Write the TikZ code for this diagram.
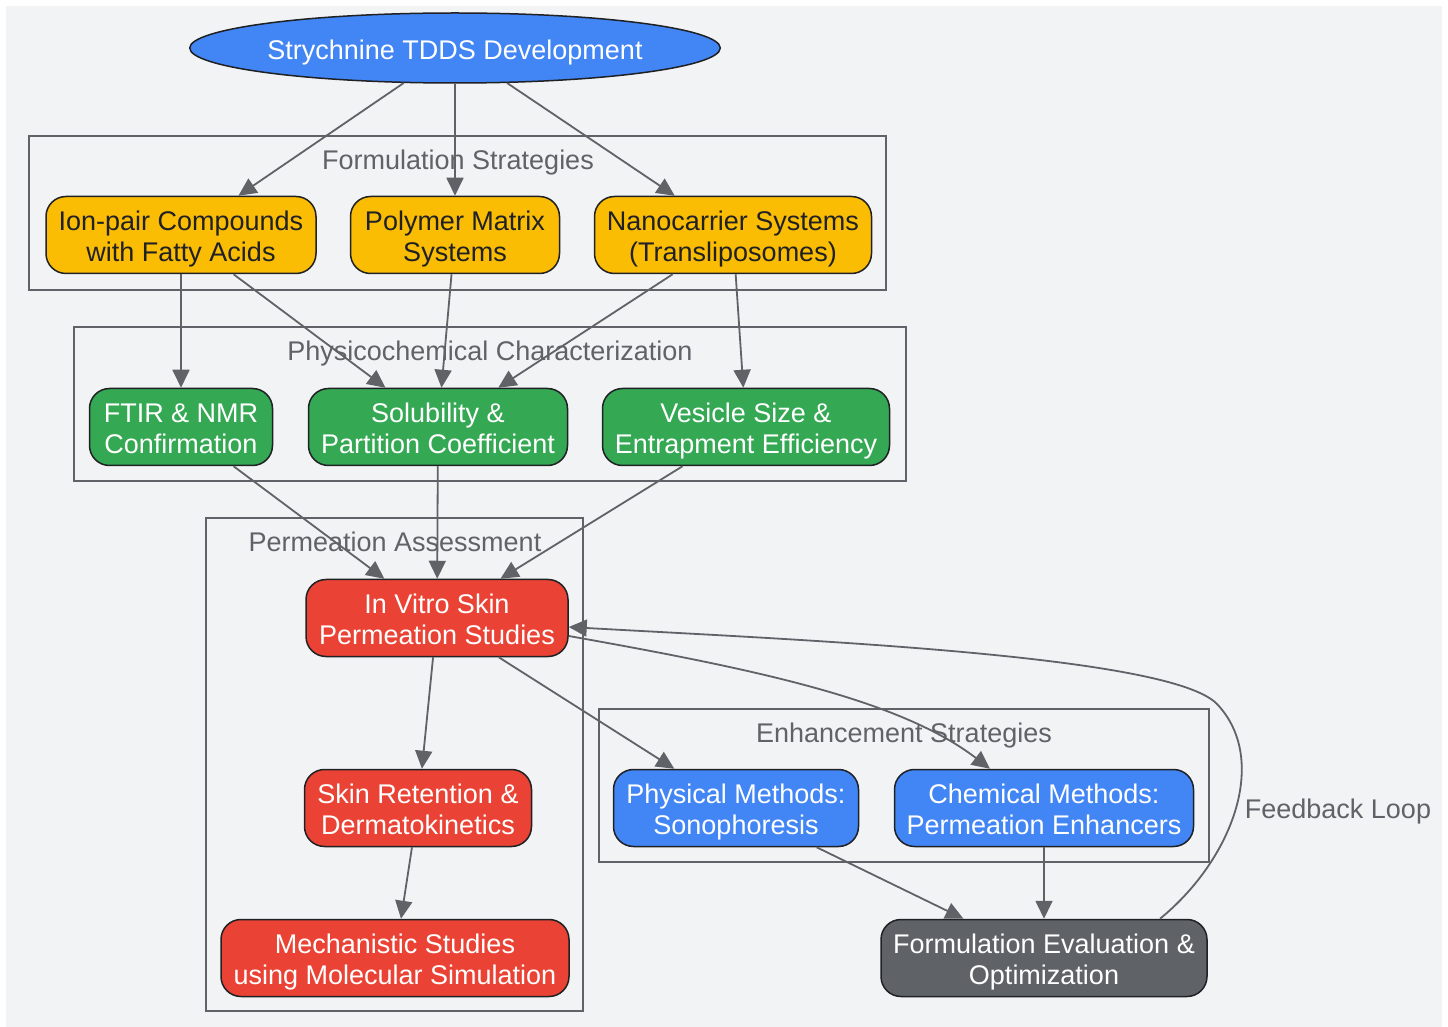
\documentclass[tikz,border=0pt]{standalone}
\usepackage{fontspec}
\setmainfont{Liberation Sans}
\usepackage{tikz}
\usetikzlibrary{arrows.meta,shapes.geometric}
\definecolor{bgray}{HTML}{F1F3F4}
\definecolor{lgray}{HTML}{5F6368}
\definecolor{dline}{HTML}{202124}
\definecolor{gblue}{HTML}{4285F4}
\definecolor{gyellow}{HTML}{FBBC04}
\definecolor{ggreen}{HTML}{34A853}
\definecolor{gred}{HTML}{EA4335}
\newcommand{\nodefont}{\fontsize{13.5}{15.5}\selectfont}
% two centred lines with a fixed height
\newcommand{\duo}[2]{\begin{tabular}{@{}c@{}}\rule{0pt}{15.65pt}#1\\#2\end{tabular}}

\begin{document}
\begin{tikzpicture}[x=0.5pt,y=-0.5pt,
  box/.style={draw=dline, line width=0.75pt, rounded corners=10pt,
    minimum height=38.5pt, inner sep=1pt, font=\nodefont},
  cluster/.style={draw=lgray, line width=1pt},
  clabel/.style={text=lgray, font=\nodefont, anchor=base},
  edge/.style={draw=lgray, line width=0.9pt, -{Triangle[length=9pt,width=8.5pt]}}]
  % page
  \useasboundingbox (0,0) rectangle (1448,1027);
  \fill[bgray] (6,6) rectangle (1442,1027);

  % clusters
  \draw[cluster] (29,136) rectangle (886,290);
  \node[clabel] (formlabel) at (458,170) {Formulation Strategies};
  \draw[cluster] (74,327) rectangle (906,481);
  \node[clabel] (charlabel) at (490,361) {Physicochemical Characterization};
  \draw[cluster] (206,518) rectangle (583,1011);
  \node[clabel] (permlabel) at (395,552) {Permeation Assessment};
  \draw[cluster] (599,709) rectangle (1209,862);
  \node[clabel] (enhlabel) at (904,742) {Enhancement Strategies};

  % root
  \node[ellipse, draw=dline, line width=0.75pt, fill=gblue, text=white, font=\nodefont,
    minimum width=265pt, minimum height=35pt, inner sep=0pt] (tdds) at (455,48)
    {\rule[-3.5pt]{0pt}{19pt}Strychnine TDDS Development};

  % formulation strategies
  \node[box, fill=gyellow, text=dline, minimum width=135pt] (ionpair) at (181,235)
    {\duo{Ion-pair Compounds}{with Fatty Acids}};
  \node[box, fill=gyellow, text=dline, minimum width=104.5pt] (polymer) at (455,235)
    {\duo{Polymer Matrix}{Systems}};
  \node[box, fill=gyellow, text=dline, minimum width=138.5pt] (nano) at (733,235)
    {\duo{Nanocarrier Systems}{(Transliposomes)}};

  % characterization
  \node[box, fill=ggreen, text=white, minimum width=91.5pt] (ftir) at (181,427)
    {\duo{FTIR \& NMR}{Confirmation}};
  \node[box, fill=ggreen, text=white, minimum width=129.5pt] (solub) at (438,427)
    {\duo{Solubility \&}{Partition Coefficient}};
  \node[box, fill=ggreen, text=white, minimum width=143.5pt] (vesicle) at (746,427)
    {\duo{Vesicle Size \&}{Entrapment Efficiency}};

  % permeation
  \node[box, fill=gred, text=white, minimum width=131pt] (invitro) at (437,618)
    {\duo{In Vitro Skin}{Permeation Studies}};
  \node[box, fill=gred, text=white, minimum width=113.5pt] (retention) at (418,808)
    {\duo{Skin Retention \&}{Dermatokinetics}};
  \node[box, fill=gred, text=white, minimum width=174pt] (mechanistic) at (395,958)
    {\duo{Mechanistic Studies}{using Molecular Simulation}};

  % enhancement
  \node[box, fill=gblue, text=white, minimum width=122.5pt] (physical) at (736,808)
    {\duo{Physical Methods:}{Sonophoresis}};
  \node[box, fill=gblue, text=white, minimum width=149.5pt] (chemical) at (1044,808)
    {\duo{Chemical Methods:}{Permeation Enhancers}};

  % evaluation
  \node[box, fill=lgray, text=white, minimum width=163pt] (evaluation) at (1044,958)
    {\duo{Formulation Evaluation \&}{Optimization}};

  % edges
  \draw[edge] (tdds) -- (ionpair);
  \draw[edge] (tdds) -- (polymer);
  \draw[edge] (tdds) -- (nano);
  \draw[edge] (ionpair) -- (ftir);
  \draw[edge] (ionpair) -- (solub);
  \draw[edge] (polymer) -- (solub);
  \draw[edge] (nano) -- (solub);
  \draw[edge] (nano) -- (vesicle);
  \draw[edge] (ftir) -- (invitro);
  \draw[edge] (solub) -- (invitro);
  \draw[edge] (vesicle) -- (invitro);
  \draw[edge] (invitro) -- (retention);
  \draw[edge] (retention) -- (mechanistic);
  \draw[edge] (invitro) -- (physical);
  \draw[edge] ([yshift=-9pt]invitro.east) .. controls (760,670) and (900,700) .. ([xshift=-27pt]chemical.north);
  \draw[edge] (physical) -- (evaluation);
  \draw[edge] (chemical) -- (evaluation);

  % feedback loop
  \draw[edge] ([xshift=58pt]evaluation.north) .. controls (1232,860) and (1270,760) .. (1217,704)
    .. controls (1170,655) and (800,640) .. ([yshift=-4.5pt]invitro.east);
  \node[clabel] (feedback) at (1338,818) {Feedback Loop};
\end{tikzpicture}
\end{document}
